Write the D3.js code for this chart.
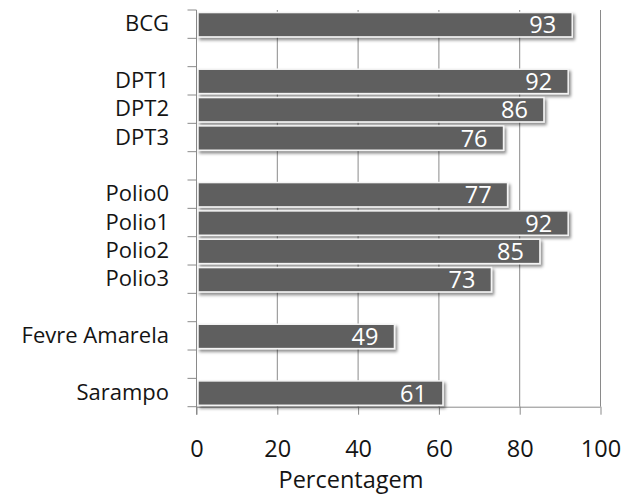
<!DOCTYPE html>
<html>
<head>
<meta charset="utf-8">
<script src="https://cdn.jsdelivr.net/npm/d3@7"></script>
<style>
  html, body { margin: 0; padding: 0; background: #fff; }
  svg { display: block; }
  text { font-family: "Open Sans", "Noto Sans", sans-serif; }
</style>
</head>
<body>
<script>
// Data (slots with empty label are blank spacer rows)
const categories = ["BCG", "", "DPT1", "DPT2", "DPT3", "", "Polio0", "Polio1", "Polio2", "Polio3", "", "Fevre Amarela", "", "Sarampo"];
const values     = [93, null, 92, 86, 76, null, 77, 92, 85, 73, null, 49, null, 61];
const xTicks     = [0, 20, 40, 60, 80, 100];
const xTitle     = "Percentagem";

const W = 626, H = 495;
const plot = { left: 196.5, right: 600.5, top: 10, bottom: 406.7 };
const FS = 23.5;
const FS_CAT = 22;

const svg = d3.select("body").append("svg").attr("width", W).attr("height", H);

const defs = svg.append("defs");
const f = defs.append("filter").attr("id", "shadow")
  .attr("x", "-5%").attr("y", "-30%").attr("width", "115%").attr("height", "180%");
f.append("feDropShadow").attr("dx", 2).attr("dy", 2.5).attr("stdDeviation", 1.8)
  .attr("flood-color", "#000").attr("flood-opacity", 0.45);

const x = d3.scaleLinear().domain([0, 100]).range([plot.left, plot.right]);
const y = d3.scaleBand().domain(d3.range(categories.length)).range([plot.top, plot.bottom]).padding(0);
const bw = y.bandwidth();

const gridColor = "#8a8a8a";

// vertical gridlines
svg.append("g").selectAll("line").data(xTicks.filter(t => t > 0)).join("line")
  .attr("x1", d => x(d)).attr("x2", d => x(d))
  .attr("y1", plot.top).attr("y2", plot.bottom)
  .attr("stroke", gridColor).attr("stroke-width", 1);

// x axis
const xAxis = d3.axisBottom(x).tickValues(xTicks).tickSize(8).tickFormat(d3.format("d"));
const gx = svg.append("g").attr("transform", `translate(0,${plot.bottom})`).call(xAxis);
gx.select(".domain").attr("stroke", gridColor).attr("d", `M${plot.left},0.5H${plot.right}`);
gx.selectAll(".tick line").attr("stroke", gridColor);
gx.selectAll(".tick text").attr("font-size", FS).attr("fill", "#141414")
  .attr("font-family", '"Open Sans", sans-serif').attr("dy", 0).attr("y", 50.5);

// y axis line and band boundary ticks
const bounds = d3.range(categories.length + 1).map(i => plot.top + i * bw);
svg.append("line").attr("x1", plot.left).attr("x2", plot.left)
  .attr("y1", plot.top).attr("y2", plot.bottom + 8).attr("stroke", gridColor);
svg.append("g").selectAll("line").data(bounds).join("line")
  .attr("x1", plot.left - 9).attr("x2", plot.left)
  .attr("y1", d => d).attr("y2", d => d).attr("stroke", gridColor);

// bars
const rows = categories.map((c, i) => ({ c, v: values[i], i })).filter(d => d.v != null);
svg.append("g").selectAll("rect").data(rows).join("rect")
  .attr("x", x(0) + 1.5)
  .attr("y", d => y(d.i) + bw * 0.09)
  .attr("width", d => x(d.v) - x(0) - 1.5)
  .attr("height", bw * 0.86)
  .attr("fill", "#5f5f5f")
  .attr("stroke", "#f4f4f4").attr("stroke-width", 1.5)
  .attr("filter", "url(#shadow)");

// value labels
svg.append("g").selectAll("text").data(rows).join("text")
  .attr("x", d => x(d.v) - 16)
  .attr("y", d => y(d.i) + bw * 0.52 + 8.5)
  .attr("text-anchor", "end")
  .attr("font-size", FS).attr("fill", "#ffffff")
  .text(d => d.v);

// category labels
svg.append("g").selectAll("text").data(rows).join("text")
  .attr("x", 169)
  .attr("y", d => y(d.i) + bw / 2 + 7)
  .attr("text-anchor", "end")
  .attr("font-size", FS_CAT).attr("fill", "#141414")
  .text(d => d.c);

// axis title
svg.append("text").attr("x", 351).attr("y", 488)
  .attr("text-anchor", "middle").attr("font-size", FS).attr("fill", "#141414")
  .text(xTitle);
</script>
</body>
</html>
